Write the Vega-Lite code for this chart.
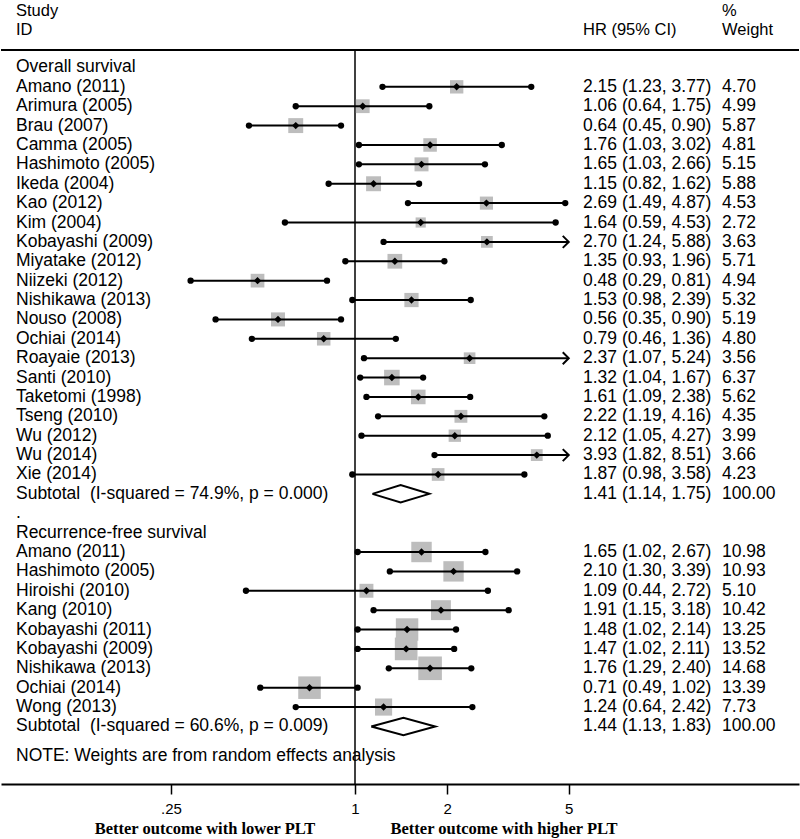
{
  "$schema": "https://vega.github.io/schema/vega-lite/v6.json",
  "width": 798,
  "height": 784,
  "padding": 0,
  "background": "white",
  "config": {
    "view": {"stroke": null},
    "axisX": {
      "grid": false,
      "domainColor": "black", "domainWidth": 2,
      "tickColor": "black", "tickWidth": 1.5, "tickSize": 10,
      "labelFont": "Liberation Sans", "labelFontSize": 15, "labelColor": "black",
      "labelPadding": 7, "labelFlush": false, "labelOverlap": false
    }
  },
  "datasets": {
    "rows": [
      {"row": 0, "label": "Overall survival", "kind": "head"},
      {"row": 1, "label": "Amano (2011)", "hr": 2.15, "lo": 1.23, "hi": 3.77, "w": 4.70, "ci": "2.15 (1.23, 3.77)", "wt": "4.70", "kind": "study"},
      {"row": 2, "label": "Arimura (2005)", "hr": 1.06, "lo": 0.64, "hi": 1.75, "w": 4.99, "ci": "1.06 (0.64, 1.75)", "wt": "4.99", "kind": "study"},
      {"row": 3, "label": "Brau (2007)", "hr": 0.64, "lo": 0.45, "hi": 0.90, "w": 5.87, "ci": "0.64 (0.45, 0.90)", "wt": "5.87", "kind": "study"},
      {"row": 4, "label": "Camma (2005)", "hr": 1.76, "lo": 1.03, "hi": 3.02, "w": 4.81, "ci": "1.76 (1.03, 3.02)", "wt": "4.81", "kind": "study"},
      {"row": 5, "label": "Hashimoto (2005)", "hr": 1.65, "lo": 1.03, "hi": 2.66, "w": 5.15, "ci": "1.65 (1.03, 2.66)", "wt": "5.15", "kind": "study"},
      {"row": 6, "label": "Ikeda (2004)", "hr": 1.15, "lo": 0.82, "hi": 1.62, "w": 5.88, "ci": "1.15 (0.82, 1.62)", "wt": "5.88", "kind": "study"},
      {"row": 7, "label": "Kao (2012)", "hr": 2.69, "lo": 1.49, "hi": 4.87, "w": 4.53, "ci": "2.69 (1.49, 4.87)", "wt": "4.53", "kind": "study"},
      {"row": 8, "label": "Kim (2004)", "hr": 1.64, "lo": 0.59, "hi": 4.53, "w": 2.72, "ci": "1.64 (0.59, 4.53)", "wt": "2.72", "kind": "study"},
      {"row": 9, "label": "Kobayashi (2009)", "hr": 2.70, "lo": 1.24, "hi": 5.88, "w": 3.63, "ci": "2.70 (1.24, 5.88)", "wt": "3.63", "kind": "study"},
      {"row": 10, "label": "Miyatake (2012)", "hr": 1.35, "lo": 0.93, "hi": 1.96, "w": 5.71, "ci": "1.35 (0.93, 1.96)", "wt": "5.71", "kind": "study"},
      {"row": 11, "label": "Niizeki (2012)", "hr": 0.48, "lo": 0.29, "hi": 0.81, "w": 4.94, "ci": "0.48 (0.29, 0.81)", "wt": "4.94", "kind": "study"},
      {"row": 12, "label": "Nishikawa (2013)", "hr": 1.53, "lo": 0.98, "hi": 2.39, "w": 5.32, "ci": "1.53 (0.98, 2.39)", "wt": "5.32", "kind": "study"},
      {"row": 13, "label": "Nouso (2008)", "hr": 0.56, "lo": 0.35, "hi": 0.90, "w": 5.19, "ci": "0.56 (0.35, 0.90)", "wt": "5.19", "kind": "study"},
      {"row": 14, "label": "Ochiai (2014)", "hr": 0.79, "lo": 0.46, "hi": 1.36, "w": 4.80, "ci": "0.79 (0.46, 1.36)", "wt": "4.80", "kind": "study"},
      {"row": 15, "label": "Roayaie (2013)", "hr": 2.37, "lo": 1.07, "hi": 5.24, "w": 3.56, "ci": "2.37 (1.07, 5.24)", "wt": "3.56", "kind": "study"},
      {"row": 16, "label": "Santi (2010)", "hr": 1.32, "lo": 1.04, "hi": 1.67, "w": 6.37, "ci": "1.32 (1.04, 1.67)", "wt": "6.37", "kind": "study"},
      {"row": 17, "label": "Taketomi (1998)", "hr": 1.61, "lo": 1.09, "hi": 2.38, "w": 5.62, "ci": "1.61 (1.09, 2.38)", "wt": "5.62", "kind": "study"},
      {"row": 18, "label": "Tseng (2010)", "hr": 2.22, "lo": 1.19, "hi": 4.16, "w": 4.35, "ci": "2.22 (1.19, 4.16)", "wt": "4.35", "kind": "study"},
      {"row": 19, "label": "Wu (2012)", "hr": 2.12, "lo": 1.05, "hi": 4.27, "w": 3.99, "ci": "2.12 (1.05, 4.27)", "wt": "3.99", "kind": "study"},
      {"row": 20, "label": "Wu (2014)", "hr": 3.93, "lo": 1.82, "hi": 8.51, "w": 3.66, "ci": "3.93 (1.82, 8.51)", "wt": "3.66", "kind": "study"},
      {"row": 21, "label": "Xie (2014)", "hr": 1.87, "lo": 0.98, "hi": 3.58, "w": 4.23, "ci": "1.87 (0.98, 3.58)", "wt": "4.23", "kind": "study"},
      {"row": 22, "label": "Subtotal \u00a0(I-squared = 74.9%, p = 0.000)", "ci": "1.41 (1.14, 1.75)", "wt": "100.00", "kind": "sub"},
      {"row": 23, "label": ".", "kind": "head"},
      {"row": 24, "label": "Recurrence-free survival", "kind": "head"},
      {"row": 25, "label": "Amano (2011)", "hr": 1.65, "lo": 1.02, "hi": 2.67, "w": 10.98, "ci": "1.65 (1.02, 2.67)", "wt": "10.98", "kind": "study"},
      {"row": 26, "label": "Hashimoto (2005)", "hr": 2.10, "lo": 1.30, "hi": 3.39, "w": 10.93, "ci": "2.10 (1.30, 3.39)", "wt": "10.93", "kind": "study"},
      {"row": 27, "label": "Hiroishi (2010)", "hr": 1.09, "lo": 0.44, "hi": 2.72, "w": 5.10, "ci": "1.09 (0.44, 2.72)", "wt": "5.10", "kind": "study"},
      {"row": 28, "label": "Kang (2010)", "hr": 1.91, "lo": 1.15, "hi": 3.18, "w": 10.42, "ci": "1.91 (1.15, 3.18)", "wt": "10.42", "kind": "study"},
      {"row": 29, "label": "Kobayashi (2011)", "hr": 1.48, "lo": 1.02, "hi": 2.14, "w": 13.25, "ci": "1.48 (1.02, 2.14)", "wt": "13.25", "kind": "study"},
      {"row": 30, "label": "Kobayashi (2009)", "hr": 1.47, "lo": 1.02, "hi": 2.11, "w": 13.52, "ci": "1.47 (1.02, 2.11)", "wt": "13.52", "kind": "study"},
      {"row": 31, "label": "Nishikawa (2013)", "hr": 1.76, "lo": 1.29, "hi": 2.40, "w": 14.68, "ci": "1.76 (1.29, 2.40)", "wt": "14.68", "kind": "study"},
      {"row": 32, "label": "Ochiai (2014)", "hr": 0.71, "lo": 0.49, "hi": 1.02, "w": 13.39, "ci": "0.71 (0.49, 1.02)", "wt": "13.39", "kind": "study"},
      {"row": 33, "label": "Wong (2013)", "hr": 1.24, "lo": 0.64, "hi": 2.42, "w": 7.73, "ci": "1.24 (0.64, 2.42)", "wt": "7.73", "kind": "study"},
      {"row": 34, "label": "Subtotal \u00a0(I-squared = 60.6%, p = 0.009)", "ci": "1.44 (1.13, 1.83)", "wt": "100.00", "kind": "sub"},
      {"row": 35.5, "label": "NOTE: Weights are from random effects analysis", "kind": "head"}
    ],
    "headers": [
      {"row": -2.93, "label": "Study", "wt": "%"},
      {"row": -1.95, "label": "ID", "ci": "HR (95% CI)", "wt": "Weight"}
    ],
    "diamonds": [
      {"grp": "OS", "ord": 1, "x": 1.14, "row": 22},
      {"grp": "OS", "ord": 2, "x": 1.41, "row": 21.55},
      {"grp": "OS", "ord": 3, "x": 1.75, "row": 22},
      {"grp": "OS", "ord": 4, "x": 1.41, "row": 22.45},
      {"grp": "OS", "ord": 5, "x": 1.14, "row": 22},
      {"grp": "RFS", "ord": 1, "x": 1.13, "row": 34},
      {"grp": "RFS", "ord": 2, "x": 1.44, "row": 33.55},
      {"grp": "RFS", "ord": 3, "x": 1.83, "row": 34},
      {"grp": "RFS", "ord": 4, "x": 1.44, "row": 34.45},
      {"grp": "RFS", "ord": 5, "x": 1.13, "row": 34}
    ]
  },
  "layer": [
    {
      "data": {"values": [{}]},
      "mark": {"type": "rule", "color": "black", "strokeWidth": 1.5},
      "encoding": {
        "x": {
          "datum": 1, "type": "quantitative", "title": null,
          "scale": {"type": "log", "domain": [0.06956, 28.31], "nice": false},
          "axis": {
            "values": [0.25, 1, 2, 5],
            "labelExpr": "datum.value == 0.25 ? '.25' : format(datum.value, 'd')",
            "title": null
          }
        },
        "y": {
          "datum": -0.9, "type": "quantitative", "title": null,
          "scale": {"domain": [-3.48, 36.97], "reverse": true, "nice": false, "zero": false},
          "axis": null
        },
        "y2": {"datum": 36.97}
      }
    },
    {
      "data": {"values": [{}]},
      "mark": {"type": "rule", "color": "black", "strokeWidth": 2},
      "encoding": {
        "y": {"datum": -0.9, "type": "quantitative", "title": null, "axis": null}
      }
    },
    {
      "data": {"name": "rows"},
      "transform": [{"filter": "datum.kind == 'study'"}],
      "mark": {"type": "point", "shape": "square", "filled": true, "color": "#bdbdbd", "opacity": 1},
      "encoding": {
        "x": {"field": "hr", "type": "quantitative", "title": null},
        "y": {"field": "row", "type": "quantitative", "title": null, "axis": null},
        "size": {"field": "w", "type": "quantitative", "scale": {"type": "linear", "domain": [0, 15], "range": [0, 570]}, "legend": null}
      }
    },
    {
      "data": {"name": "rows"},
      "transform": [{"filter": "datum.kind == 'study' && datum.hi <= 5"}],
      "mark": {"type": "rule", "color": "black", "strokeWidth": 2},
      "encoding": {
        "x": {"field": "lo", "type": "quantitative", "title": null},
        "x2": {"field": "hi"},
        "y": {"field": "row", "type": "quantitative", "title": null, "axis": null}
      }
    },
    {
      "data": {"name": "rows"},
      "transform": [{"filter": "datum.kind == 'study' && datum.hi > 5"}],
      "mark": {"type": "rule", "color": "black", "strokeWidth": 2},
      "encoding": {
        "x": {"field": "lo", "type": "quantitative", "title": null},
        "x2": {"datum": 5},
        "y": {"field": "row", "type": "quantitative", "title": null, "axis": null}
      }
    },
    {
      "data": {"name": "rows"},
      "transform": [{"filter": "datum.kind == 'study' && datum.hi > 5"}],
      "mark": {"type": "point", "shape": "M-1,-1L0,0L-1,1", "filled": false, "color": "black", "strokeWidth": 2, "size": 144, "opacity": 1},
      "encoding": {
        "x": {"datum": 5, "type": "quantitative", "title": null},
        "y": {"field": "row", "type": "quantitative", "title": null, "axis": null}
      }
    },
    {
      "data": {"name": "rows"},
      "transform": [{"filter": "datum.kind == 'study'"}],
      "mark": {"type": "point", "shape": "circle", "filled": true, "color": "black", "size": 40, "opacity": 1},
      "encoding": {
        "x": {"field": "lo", "type": "quantitative", "title": null},
        "y": {"field": "row", "type": "quantitative", "title": null, "axis": null}
      }
    },
    {
      "data": {"name": "rows"},
      "transform": [{"filter": "datum.kind == 'study' && datum.hi <= 5"}],
      "mark": {"type": "point", "shape": "circle", "filled": true, "color": "black", "size": 40, "opacity": 1},
      "encoding": {
        "x": {"field": "hi", "type": "quantitative", "title": null},
        "y": {"field": "row", "type": "quantitative", "title": null, "axis": null}
      }
    },
    {
      "data": {"name": "rows"},
      "transform": [{"filter": "datum.kind == 'study'"}],
      "mark": {"type": "point", "shape": "diamond", "filled": true, "color": "black", "size": 55, "opacity": 1},
      "encoding": {
        "x": {"field": "hr", "type": "quantitative", "title": null},
        "y": {"field": "row", "type": "quantitative", "title": null, "axis": null}
      }
    },
    {
      "data": {"name": "diamonds"},
      "mark": {"type": "line", "color": "black", "strokeWidth": 2, "interpolate": "linear"},
      "encoding": {
        "x": {"field": "x", "type": "quantitative", "title": null},
        "y": {"field": "row", "type": "quantitative", "title": null, "axis": null},
        "detail": {"field": "grp"},
        "order": {"field": "ord", "type": "quantitative"}
      }
    },
    {
      "data": {"name": "rows"},
      "transform": [{"filter": "isValid(datum.label)"}],
      "mark": {"type": "text", "align": "left", "baseline": "middle", "font": "Liberation Sans", "fontSize": 17.5, "color": "black"},
      "encoding": {
        "x": {"datum": 0.07787, "type": "quantitative", "title": null},
        "y": {"field": "row", "type": "quantitative", "title": null, "axis": null},
        "text": {"field": "label"}
      }
    },
    {
      "data": {"name": "rows"},
      "transform": [{"filter": "isValid(datum.ci)"}],
      "mark": {"type": "text", "align": "left", "baseline": "middle", "font": "Liberation Sans", "fontSize": 17.5, "color": "black"},
      "encoding": {
        "x": {"datum": 5.567, "type": "quantitative", "title": null},
        "y": {"field": "row", "type": "quantitative", "title": null, "axis": null},
        "text": {"field": "ci"}
      }
    },
    {
      "data": {"name": "rows"},
      "transform": [{"filter": "isValid(datum.wt)"}],
      "mark": {"type": "text", "align": "left", "baseline": "middle", "font": "Liberation Sans", "fontSize": 17.5, "color": "black"},
      "encoding": {
        "x": {"datum": 15.857, "type": "quantitative", "title": null},
        "y": {"field": "row", "type": "quantitative", "title": null, "axis": null},
        "text": {"field": "wt"}
      }
    },
    {
      "data": {"name": "headers"},
      "transform": [{"filter": "isValid(datum.label)"}],
      "mark": {"type": "text", "align": "left", "baseline": "middle", "font": "Liberation Sans", "fontSize": 16.5, "color": "black"},
      "encoding": {
        "x": {"datum": 0.07787, "type": "quantitative", "title": null},
        "y": {"field": "row", "type": "quantitative", "title": null, "axis": null},
        "text": {"field": "label"}
      }
    },
    {
      "data": {"name": "headers"},
      "transform": [{"filter": "isValid(datum.ci)"}],
      "mark": {"type": "text", "align": "left", "baseline": "middle", "font": "Liberation Sans", "fontSize": 16.5, "color": "black"},
      "encoding": {
        "x": {"datum": 5.567, "type": "quantitative", "title": null},
        "y": {"field": "row", "type": "quantitative", "title": null, "axis": null},
        "text": {"field": "ci"}
      }
    },
    {
      "data": {"name": "headers"},
      "transform": [{"filter": "isValid(datum.wt)"}],
      "mark": {"type": "text", "align": "left", "baseline": "middle", "font": "Liberation Sans", "fontSize": 16.5, "color": "black"},
      "encoding": {
        "x": {"datum": 15.857, "type": "quantitative", "title": null},
        "y": {"field": "row", "type": "quantitative", "title": null, "axis": null},
        "text": {"field": "wt"}
      }
    },
    {
      "data": {"values": [{}]},
      "mark": {"type": "text", "align": "center", "baseline": "middle", "font": "Liberation Serif", "fontWeight": "bold", "fontSize": 16.5, "color": "black"},
      "encoding": {
        "x": {"datum": 0.3232, "type": "quantitative", "title": null},
        "y": {"datum": 39.3, "type": "quantitative", "title": null, "axis": null},
        "text": {"value": "Better outcome with lower PLT"}
      }
    },
    {
      "data": {"values": [{}]},
      "mark": {"type": "text", "align": "center", "baseline": "middle", "font": "Liberation Serif", "fontWeight": "bold", "fontSize": 16.5, "color": "black"},
      "encoding": {
        "x": {"datum": 3.071, "type": "quantitative", "title": null},
        "y": {"datum": 39.3, "type": "quantitative", "title": null, "axis": null},
        "text": {"value": "Better outcome with higher PLT"}
      }
    }
  ]
}
